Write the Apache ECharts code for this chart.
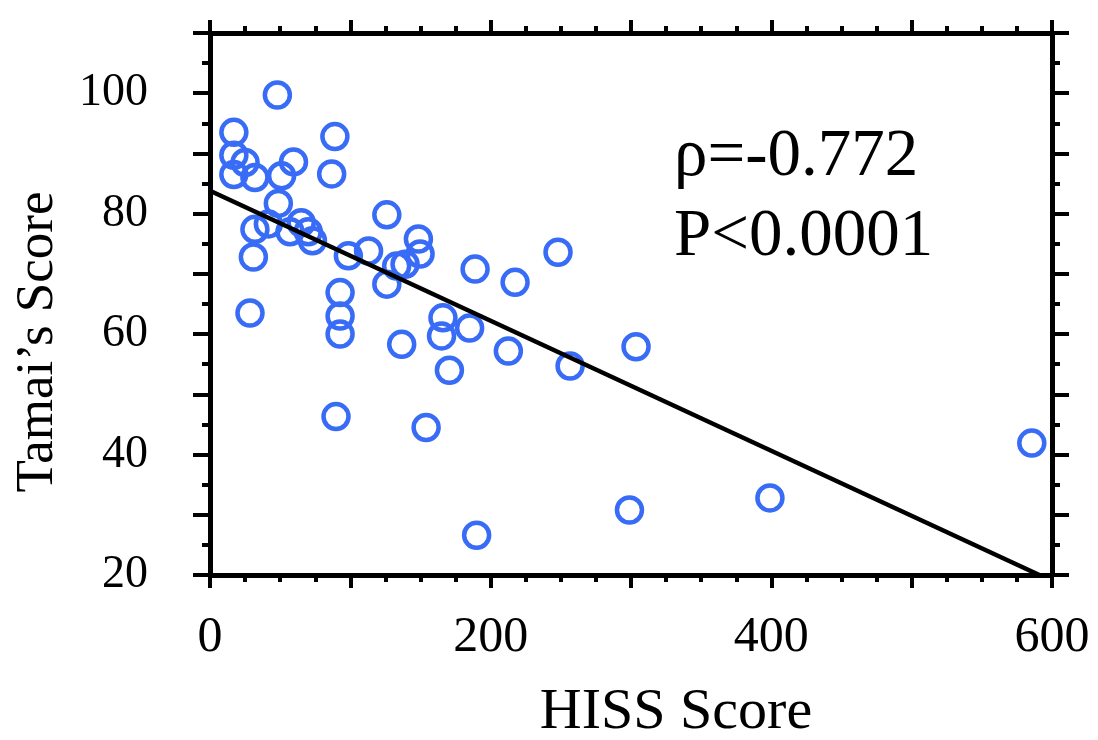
<!DOCTYPE html>
<html><head><meta charset="utf-8">
<script src="https://cdn.jsdelivr.net/npm/echarts@6/dist/echarts.min.js"></script>
<style>html,body{margin:0;padding:0;background:#fff}#c{width:1098px;height:740px}</style>
</head><body><div id="c"></div>
<script>
// Data
const hissScore  = [17, 17, 25, 17, 32, 48, 59.5, 51, 89, 86.7, 48.7, 126, 32, 41.6, 57, 65, 70, 73, 30.9, 98.6, 113, 148.5, 149.7, 188.9, 217.4, 133, 139, 126, 92.7, 28.5, 92.7, 92.7, 166, 165, 185, 136.6, 212.6, 170.6, 89.8, 154, 190, 248, 256.6, 303.6, 298.9, 399, 585.6];
const tamaiScore = [93.5, 89.7, 88.5, 86.5, 86, 99.7, 88.6, 86.3, 92.8, 86.6, 81.7, 79.8, 77.4, 78.3, 77, 78.5, 77, 75.5, 72.8, 73, 73.8, 75.8, 73.3, 70.8, 68.6, 71.3, 71.6, 68.3, 66.9, 63.5, 63, 60, 62.7, 59.7, 61, 58.3, 57.2, 54, 46.3, 44.5, 26.6, 73.6, 54.7, 57.9, 30.8, 32.8, 41.9];
const fitX = [0, 591];
const fitY = [83.8, 20];
const xTickLabels = [0, 200, 400, 600];
const yTickLabels = [20, 40, 60, 80, 100];
const xAxisTitle = 'HISS Score';
const yAxisTitle = 'Tamai\u2019s Score';
const statLines = ['\u03c1=-0.772', 'P<0.0001'];

const points = hissScore.map((x, i) => [x, tamaiScore[i]]);
const fitLine = fitX.map((x, i) => [x, fitY[i]]);

const FONT = '"Liberation Serif", "DejaVu Serif", serif';
const tickStyle = { color: '#000', width: 4 };

function xAxisDef(pos, showLabel) {
  return {
    type: 'value', position: pos, min: 0, max: 600, interval: 100,
    axisLine: { show: true, onZero: false, lineStyle: { color: '#000', width: 5 } },
    axisTick: { show: true, inside: false, length: 13, lineStyle: tickStyle },
    minorTick: { show: true, splitNumber: 4, length: 7, lineStyle: tickStyle },
    splitLine: { show: false }, minorSplitLine: { show: false },
    axisLabel: {
      show: showLabel, margin: 38, color: '#000', fontFamily: FONT, fontSize: 50,
      formatter: v => xTickLabels.includes(v) ? String(v) : ''
    }
  };
}
function yAxisDef(pos, showLabel) {
  return {
    type: 'value', position: pos, min: 20, max: 110, interval: 10,
    axisLine: { show: true, onZero: false, lineStyle: { color: '#000', width: 5 } },
    axisTick: { show: true, inside: false, length: 17, lineStyle: tickStyle },
    minorTick: { show: true, splitNumber: 2, length: 8, lineStyle: tickStyle },
    splitLine: { show: false }, minorSplitLine: { show: false },
    axisLabel: {
      show: showLabel, margin: 62, color: '#000', fontFamily: FONT, fontSize: 46,
      formatter: v => yTickLabels.includes(v) ? String(v) : ''
    }
  };
}

const chart = echarts.init(document.getElementById('c'), null, { renderer: 'canvas' });
chart.setOption({
  animation: false,
  backgroundColor: '#fff',
  grid: { left: 210, right: 46, top: 33, bottom: 165, containLabel: false },
  xAxis: [xAxisDef('bottom', true), xAxisDef('top', false)],
  yAxis: [yAxisDef('left', true), yAxisDef('right', false)],
  series: [
    {
      type: 'scatter', xAxisIndex: 0, yAxisIndex: 0, data: points,
      symbol: 'circle', symbolSize: 25, z: 2,
      itemStyle: { color: 'rgba(255,255,255,0)', borderColor: '#386cf6', borderWidth: 4.5, opacity: 1 }
    },
    {
      type: 'line', xAxisIndex: 0, yAxisIndex: 0, data: fitLine,
      showSymbol: false, symbol: 'none', z: 3,
      lineStyle: { color: '#000', width: 4.5 }
    }
  ],
  graphic: [
    { type: 'text', x: 676, y: 713, silent: true,
      style: { text: xAxisTitle, font: '58px ' + FONT, fill: '#000', textAlign: 'center', textVerticalAlign: 'middle' } },
    { type: 'text', x: 38, y: 342, rotation: Math.PI / 2, silent: true,
      style: { text: yAxisTitle, font: '53px ' + FONT, fill: '#000', textAlign: 'center', textVerticalAlign: 'middle' } },
    { type: 'text', x: 674, y: 157, silent: true,
      style: { text: statLines[0], font: '67px ' + FONT, fill: '#000', textAlign: 'left', textVerticalAlign: 'middle' } },
    { type: 'text', x: 674, y: 237, silent: true,
      style: { text: statLines[1], font: '67px ' + FONT, fill: '#000', textAlign: 'left', textVerticalAlign: 'middle' } }
  ]
});
</script></body></html>
